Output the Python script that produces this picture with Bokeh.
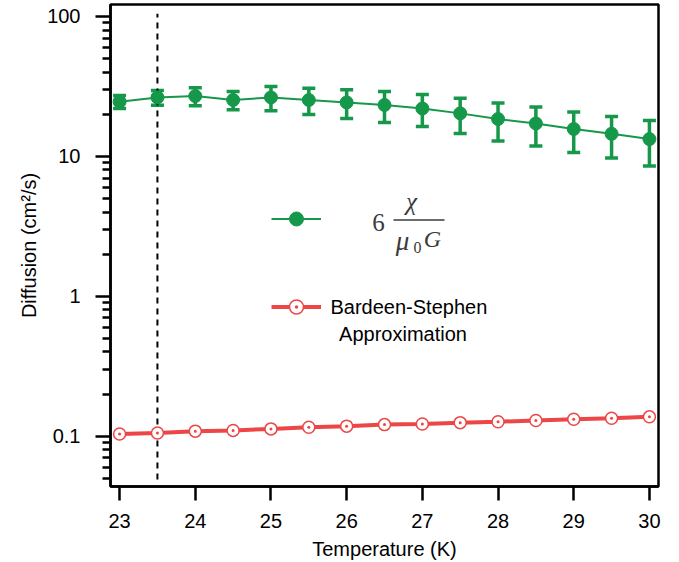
from bokeh.plotting import figure
from bokeh.models import (ColumnDataSource, Whisker, TeeHead, FixedTicker, Label,
                          BoxAnnotation, Legend, LegendItem)
from bokeh.core.properties import value
from bokeh.embed import file_html
from bokeh.resources import INLINE

# ---------------- data ----------------
temperature = [23.0, 23.5, 24.0, 24.5, 25.0, 25.5, 26.0, 26.5, 27.0, 27.5, 28.0, 28.5, 29.0, 29.5, 30.0]
diff_chi = [24.6, 26.4, 27.0, 25.3, 26.4, 25.3, 24.3, 23.3, 22.0, 20.3, 18.5, 17.2, 15.7, 14.5, 13.3]
diff_chi_err = [2.6, 3.2, 4.0, 3.75, 5.2, 5.4, 5.65, 5.8, 5.65, 5.75, 5.6, 5.35, 5.05, 4.75, 4.75]
diff_bs = [0.1038, 0.1055, 0.1087, 0.110, 0.1128, 0.116, 0.118, 0.121, 0.1224, 0.125,
           0.127, 0.1294, 0.132, 0.1345, 0.1375]
tc_mark = 23.5
tc_span = (0.049, 104.5)

x_ticks = [23, 24, 25, 26, 27, 28, 29, 30]
y_major = [0.1, 1, 10, 100]
y_minor = [0.05, 0.06, 0.07, 0.08, 0.09,
           0.2, 0.3, 0.4, 0.5, 0.6, 0.7, 0.8, 0.9,
           2, 3, 4, 5, 6, 7, 8, 9,
           20, 30, 40, 50, 60, 70, 80, 90]
y_labels = {0.1: "0.1", 1: "1", 10: "10", 100: "100"}

GREEN = "#16984a"
RED = "#ec4646"
FONT = "Liberation Sans"
FS = "20px"

src = ColumnDataSource(dict(
    x=temperature, chi=diff_chi,
    upper=[v + e for v, e in zip(diff_chi, diff_chi_err)],
    lower=[v - e for v, e in zip(diff_chi, diff_chi_err)],
    bs=diff_bs))

p = figure(frame_width=548, frame_height=482, y_axis_type="log",
           x_range=(22.88, 30.12), y_range=(0.0437, 121.8),
           output_backend="svg", toolbar_location=None,
           min_border_left=110, min_border_right=13, min_border_top=4, min_border_bottom=76)

p.xgrid.visible = False
p.ygrid.visible = False
p.outline_line_color = "black"
p.outline_line_width = 2.5
p.outline_line_alpha = 1.0
p.background_fill_color = "white"
p.border_fill_color = "white"

# dashed reference line
p.segment(x0=[tc_mark], y0=[tc_span[0]], x1=[tc_mark], y1=[tc_span[1]],
          line_color="black", line_width=2, line_dash="6 5")

# Bardeen-Stephen series
r_line = p.line("x", "bs", source=src, line_color=RED, line_width=4)
r_pts = p.scatter("x", "bs", source=src, marker="circle_dot", size=12,
                  fill_color="white", line_color=RED, line_width=1.5)

# chi series
g_line = p.line("x", "chi", source=src, line_color=GREEN, line_width=2)
wh = Whisker(source=src, base="x", upper="upper", lower="lower",
             line_color=GREEN, line_width=3.5,
             upper_head=TeeHead(size=13, line_color=GREEN, line_width=3.5),
             lower_head=TeeHead(size=13, line_color=GREEN, line_width=3.5))
p.add_layout(wh)
g_pts = p.scatter("x", "chi", source=src, marker="circle", size=13,
                  fill_color=GREEN, line_color=GREEN)

# axes
p.xaxis.ticker = FixedTicker(ticks=x_ticks)
p.yaxis.ticker = FixedTicker(ticks=y_major, minor_ticks=y_minor)
p.yaxis.major_label_overrides = y_labels
p.xaxis.axis_label = "Temperature (K)"
p.yaxis.axis_label = "Diffusion (cm²/s)"
for ax in (p.xaxis[0], p.yaxis[0]):
    ax.axis_line_width = 2.5
    ax.axis_line_color = "black"
    ax.major_tick_line_width = 2.5
    ax.major_tick_line_color = "black"
    ax.minor_tick_line_width = 2.5
    ax.minor_tick_line_color = "black"
    ax.major_tick_in = 0
    ax.minor_tick_in = 0
    ax.major_label_text_font = FONT
    ax.major_label_text_font_size = FS
    ax.major_label_text_color = "black"
    ax.axis_label_text_font = FONT
    ax.axis_label_text_font_size = FS
    ax.axis_label_text_font_style = "normal"
    ax.axis_label_text_color = "black"
p.xaxis.major_tick_out = 14
p.xaxis.minor_tick_out = 0
p.xaxis.major_label_standoff = 13
p.xaxis.axis_label_standoff = 7
p.yaxis.major_tick_out = 15
p.yaxis.minor_tick_out = 8
p.yaxis.major_label_standoff = 15
p.yaxis.axis_label_standoff = 4

# legend keys
legend = Legend(items=[LegendItem(label=value(""), renderers=[g_line, g_pts]),
                       LegendItem(label=value(""), renderers=[r_line, r_pts])],
                location=(161, 162), orientation="vertical",
                glyph_width=50, glyph_height=35, label_height=35, label_width=1,
                label_standoff=0, spacing=53, padding=0, margin=0,
                border_line_alpha=0, background_fill_alpha=0,
                label_text_font_size="1px")
p.add_layout(legend)

# legend texts
MATH = "Liberation Serif"
MC = "#3a3a3a"
def lab(x, y, t, size, style="italic", font=MATH, color=MC, align="center"):
    p.add_layout(Label(x=x, y=y, x_units="screen", y_units="screen", text=t,
                       text_font=font, text_font_size=size, text_font_style=style,
                       text_color=color, text_align=align, text_baseline="middle"))

lab(268, 264, "6", "25px", style="normal")
lab(301, 285, "χ", "25px")
p.add_layout(BoxAnnotation(left=283, right=334, bottom=265.8, top=267.2,
                           left_units="screen", right_units="screen",
                           bottom_units="screen", top_units="screen",
                           fill_color=MC, fill_alpha=1, line_alpha=0))
lab(292, 246, "μ", "27px")
lab(307, 239, "0", "16px", style="normal")
lab(322, 247.5, "G", "24px")

lab(220, 180, "Bardeen-Stephen", FS, style="normal", font=FONT, color="black", align="left")
lab(292.5, 153, "Approximation", FS, style="normal", font=FONT, color="black")

open("out.html", "w").write(file_html(p, INLINE))
